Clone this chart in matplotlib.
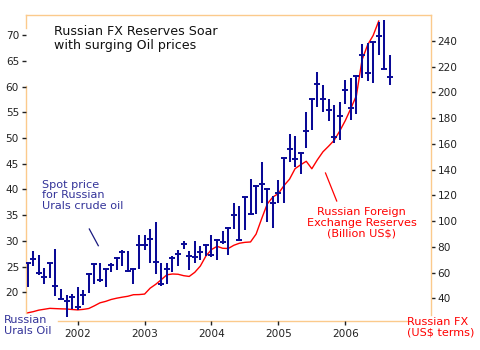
import matplotlib
matplotlib.use("Agg")
import matplotlib.pyplot as plt
from matplotlib.lines import Line2D
import numpy as np

# ---- data ----
start_year = 2001.25  # April 2001, monthly
oil_high = [25.7, 28.0, 27.3, 24.8, 25.7, 28.4, 20.7, 19.4, 19.6,
            21.0, 20.4, 23.8, 25.6, 25.7, 24.6, 25.7, 26.9, 28.2, 28.0, 24.7, 31.2,
            31.2, 32.4, 33.7, 25.7, 25.7, 27.0, 28.3, 29.9, 28.0, 29.9, 29.1, 29.5,
            31.1, 30.4, 32.0, 32.7, 37.3, 36.8, 38.5, 42.0, 40.9, 45.4, 40.0, 38.7,
            41.9, 46.1, 50.7, 50.3, 47.2, 55.1, 57.5, 62.8, 60.3, 57.5, 56.5, 57.0,
            61.3, 61.7, 62.2, 68.2, 68.5, 68.6, 72.5, 73.0, 66.1]
oil_low = [21.0, 25.2, 23.4, 21.7, 22.8, 19.3, 18.6, 15.3, 16.8,
           16.5, 17.5, 19.9, 21.7, 22.0, 21.0, 23.9, 24.3, 25.2, 24.0, 21.6, 24.6,
           28.3, 25.7, 23.6, 21.2, 21.7, 23.9, 25.1, 28.5, 24.3, 25.7, 26.2, 27.0,
           26.9, 26.3, 29.5, 27.2, 32.4, 30.2, 32.1, 35.1, 35.2, 37.3, 33.6, 32.5,
           37.3, 37.3, 45.4, 44.4, 43.0, 48.0, 51.5, 56.1, 55.1, 53.3, 49.0, 49.6,
           56.7, 53.5, 54.6, 61.6, 61.0, 60.6, 66.2, 63.5, 60.3]
oil_close = [25.7, 26.5, 23.7, 22.9, 25.7, 21.2, 18.7, 18.4, 19.1,
             17.2, 19.4, 23.6, 25.6, 22.5, 24.5, 25.4, 26.7, 27.8, 24.1, 24.6, 29.3,
             29.3, 30.4, 25.9, 21.7, 24.5, 26.7, 27.5, 29.4, 27.1, 26.9, 27.8, 29.3,
             27.3, 30.2, 29.8, 32.5, 35.0, 30.2, 38.5, 35.2, 40.7, 41.0, 40.0, 37.3,
             39.3, 46.1, 47.8, 45.9, 47.0, 51.4, 57.5, 60.4, 57.5, 55.4, 50.1, 54.3,
             59.3, 55.9, 62.1, 66.2, 62.7, 68.6, 69.9, 63.5, 61.8]
fx_reserves = [28.7, 29.6, 30.8, 31.5, 32.2, 32.0, 31.8, 31.7, 31.3,
               31.0, 31.4, 32.1, 34.2, 36.5, 37.6, 39.1, 40.1, 40.9, 41.6, 42.8, 42.9,
               43.3, 47.9, 50.9, 54.5, 58.3, 58.9, 58.7, 57.6, 57.0, 60.2, 65.1, 72.9,
               77.9, 80.4, 78.9, 78.7, 81.2, 82.8, 83.5, 83.8, 89.9, 101.9, 113.3, 118.7,
               121.4, 127.6, 132.6, 140.8, 143.8, 146.5, 140.7, 147.7, 153.9, 158.2,
               162.8, 170.0, 178.1, 187.6, 197.6, 225.2, 236.9, 244.3, 255.5]
year_ticks = [2002, 2003, 2004, 2005, 2006]
oil_ticks = [20, 25, 30, 35, 40, 45, 50, 55, 60, 65, 70]
fx_ticks = [40, 60, 80, 100, 120, 140, 160, 180, 200, 220, 240]

oil_x = start_year + np.arange(len(oil_high)) / 12.0
fx_x = start_year + np.arange(len(fx_reserves)) / 12.0

# ---- style ----
W, H = 480, 350
NAVY = "#0a0a96"
RED = "#ff0000"
SPINE = "#fbca8c"
TXTBLUE = "#333399"
TICKC = "#222222"

plt.rcParams['font.family'] = ['DejaVu Sans']

fig = plt.figure(figsize=(4.8, 3.5), dpi=100, facecolor="white")

def fx_(x):
    return x / W

def fy_(y):
    return 1 - y / H

L, R, T, B = 26, 430.7, 15, 320.7
ax = fig.add_axes([fx_(L), fy_(B), (R - L) / W, (B - T) / H])
ax2 = ax.twinx()

ax.set_xlim(2001.227, 2007.277)
ax.set_ylim(14.5, 73.9)
ax2.set_ylim(22.6, 260.2)

# FX reserves line (right axis)
ax2.plot(fx_x, fx_reserves, color=RED, lw=1.0, zorder=2)

# oil high-low bars
ax.vlines(oil_x, oil_low, oil_high, color=NAVY, lw=1.45, zorder=3)
ax.plot(oil_x, oil_close, ls="none", marker="_", ms=4.2, mew=1.4,
        color=NAVY, zorder=4)
ax.patch.set_visible(False)
ax.set_zorder(2)
ax2.set_zorder(1)
ax2.patch.set_visible(True)

# ticks
ax.set_xticks(year_ticks)
ax.set_xticklabels([str(y) for y in year_ticks])
ax.set_yticks(oil_ticks)
ax2.set_yticks(fx_ticks)
for a in (ax, ax2):
    a.tick_params(direction="out", length=3, width=1, color=TICKC,
                  labelcolor=TICKC, labelsize=7.6, pad=2)
    for s in a.spines.values():
        s.set_visible(False)
ax.tick_params(axis="x", pad=3)

# hand-drawn frame segments (partially hidden like the original)
def fline(xs, ys, color, lw=1.0):
    fig.add_artist(Line2D([fx_(v) for v in xs], [fy_(v) for v in ys],
                          color=color, lw=lw, transform=fig.transFigure))

fline([L, R], [T, T], SPINE)
fline([L, L], [T, 28.3], SPINE)
fline([L, L], [86, 313], SPINE)
fline([R, R], [T, 315], SPINE)
fline([58, 406.7], [B, B], SPINE)

# annotation pointer lines
fline([89.3, 98.3], [229, 245.7], "#1a1a80", lw=0.9)
fline([325.5, 336.7], [173, 201], RED, lw=0.9)

# texts
fig.text(fx_(54), fy_(25), "Russian FX Reserves Soar\nwith surging Oil prices",
         ha="left", va="top", fontsize=9.1, color="#111111", linespacing=1.1)
fig.text(fx_(42), fy_(179.5), "Spot price\nfor Russian\nUrals crude oil",
         ha="left", va="top", fontsize=8.1, color=TXTBLUE, linespacing=1.1)
fig.text(fx_(361.7), fy_(207), "Russian Foreign\nExchange Reserves\n(Billion US$)",
         ha="center", va="top", fontsize=8.1, color=RED, linespacing=1.1)
fig.text(fx_(4), fy_(315), "Russian\nUrals Oil",
         ha="left", va="top", fontsize=8.1, color=TXTBLUE, linespacing=1.1)
fig.text(fx_(407), fy_(317), "Russian FX\n(US$ terms)",
         ha="left", va="top", fontsize=8.1, color=RED, linespacing=1.1)

fig.savefig("out.png", dpi=100, facecolor="white")
